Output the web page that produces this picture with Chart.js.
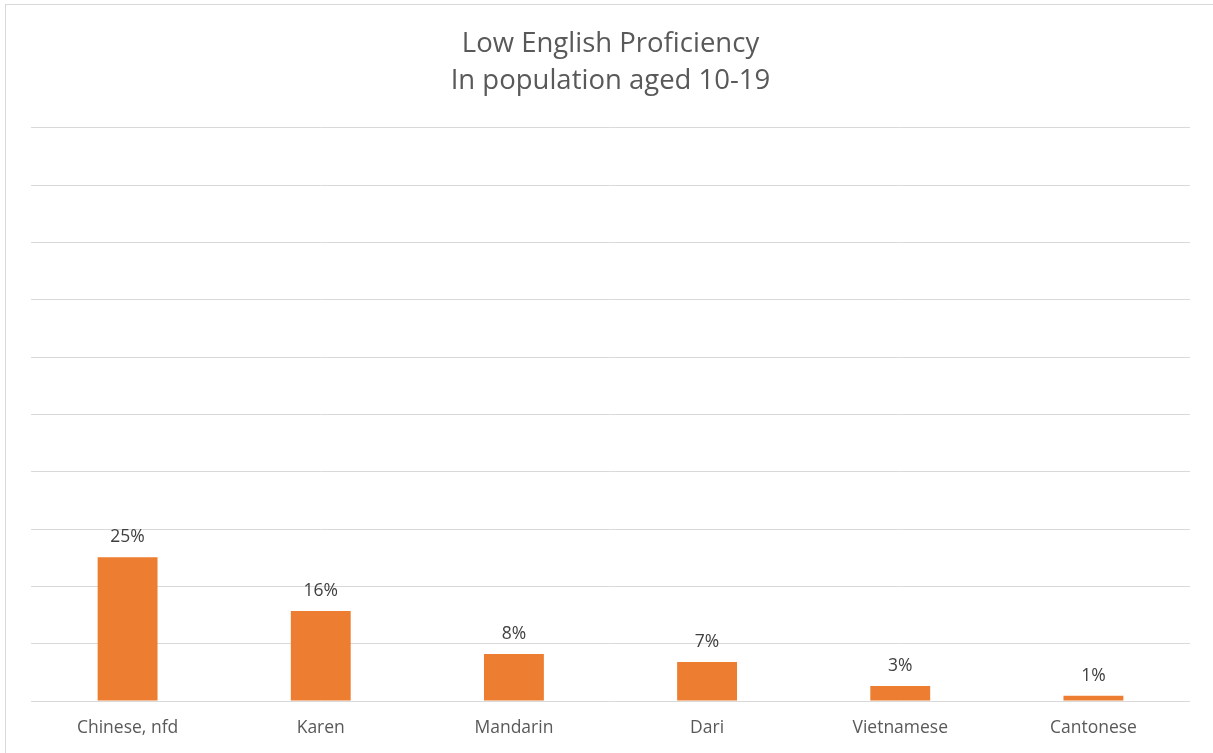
<!DOCTYPE html>
<html>
<head>
<meta charset="utf-8">
<script src="https://cdn.jsdelivr.net/npm/chart.js@4"></script>
<style>
  html, body { margin: 0; padding: 0; background: #fff; }
  #wrap { position: relative; width: 1213px; height: 753px; }
  #frame { position: absolute; left: 5px; top: 4px; width: 1213px; height: 760px; border: 1px solid #d9d9d9; box-sizing: border-box; pointer-events: none; }
  canvas { position: absolute; left: 0; top: 0; }
</style>
</head>
<body>
<div id="wrap">
  <canvas id="c" width="1213" height="753"></canvas>
  <div id="frame"></div>
</div>
<script>
const titleLines = ["Low English Proficiency", "In population aged 10-19"];
const categories = ["Chinese, nfd", "Karen", "Mandarin", "Dari", "Vietnamese", "Cantonese"];
const values = [0.251, 0.157, 0.082, 0.068, 0.026, 0.009];
const yMax = 1.0;
const yStep = 0.1;

const FONT = "'Open Sans', Lato, sans-serif";

const valueLabels = {
  id: 'valueLabels',
  afterDatasetsDraw(chart) {
    const ctx = chart.ctx;
    const meta = chart.getDatasetMeta(0);
    ctx.save();
    ctx.font = "17.5px " + FONT;
    ctx.fillStyle = "#404040";
    ctx.textAlign = "center";
    ctx.textBaseline = "bottom";
    meta.data.forEach((bar, i) => {
      const v = chart.data.datasets[0].data[i];
      ctx.fillText(Math.round(v * 100) + "%", bar.x, bar.y - 11);
    });
    ctx.restore();
  }
};

new Chart(document.getElementById('c'), {
  type: 'bar',
  data: {
    labels: categories,
    datasets: [{
      data: values,
      backgroundColor: '#ED7D31',
      borderWidth: 0,
      categoryPercentage: 1.0,
      barPercentage: 0.31
    }]
  },
  options: {
    responsive: false,
    animation: false,
    devicePixelRatio: 1,
    layout: { padding: { left: 31, right: 23, top: 10, bottom: 0 } },
    plugins: {
      legend: { display: false },
      tooltip: { enabled: false },
      title: {
        display: true,
        text: titleLines,
        color: '#595959',
        font: { family: FONT, size: 27.5, weight: 'normal', lineHeight: 1.345 },
        padding: { top: 16, bottom: 28 }
      }
    },
    scales: {
      x: {
        grid: { display: false, drawTicks: false },
        border: { display: false },
        ticks: { color: '#595959', font: { family: FONT, size: 17.5 }, padding: 17, maxRotation: 0 },
        afterFit(scale) { scale.height = 52; }
      },
      y: {
        min: 0, max: yMax,
        grid: { color: '#d9d9d9', lineWidth: 1, drawTicks: false },
        border: { display: false },
        ticks: { display: false, stepSize: yStep },
        afterFit(scale) { scale.width = 0; }
      }
    }
  },
  plugins: [valueLabels]
});
</script>
</body>
</html>
